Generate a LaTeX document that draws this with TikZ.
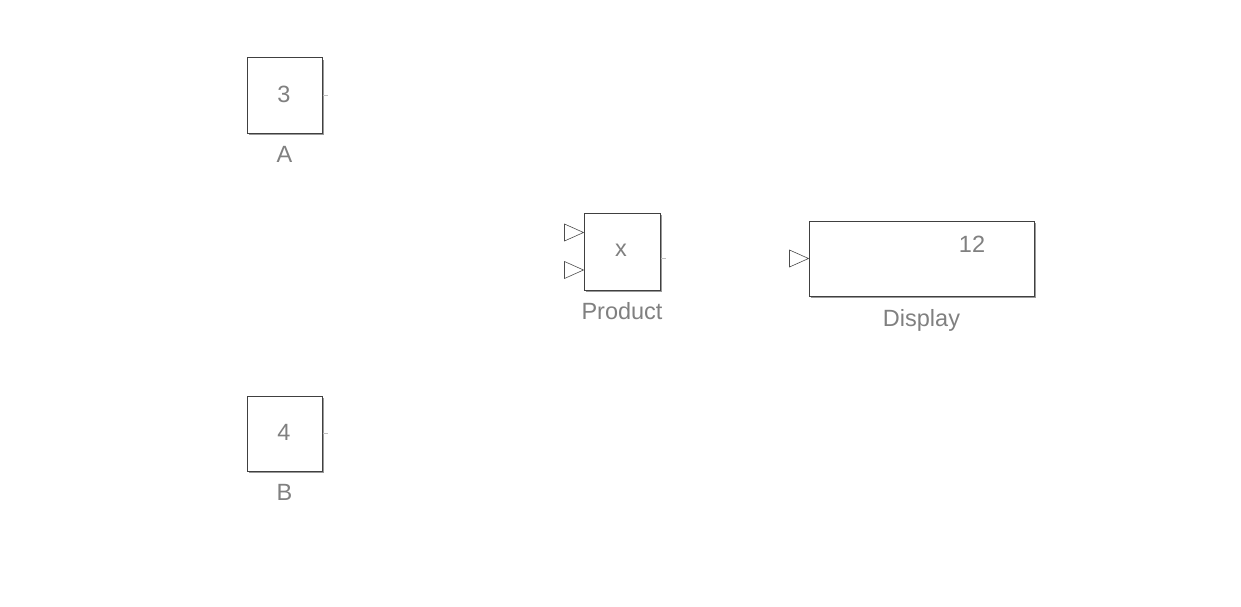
\documentclass[tikz,border=0pt]{standalone}
\usepackage{fontspec}
\setmainfont{Liberation Sans}
\usetikzlibrary{shadows,positioning}
\begin{document}
\begin{tikzpicture}[x=1pt,y=-1pt,
  blk/.style={draw=black!75,line width=1pt,fill=white,minimum width=75pt,minimum height=75pt,inner sep=0pt,
    general shadow={fill=black!40,shadow xshift=2pt,shadow yshift=-2pt}},
  txt/.style={text=black!50,font=\fontsize{23.5}{26}\selectfont,inner sep=0pt},
  port/.style={draw=black!70,line width=0.6pt,fill=white},
  tick/.style={draw=black!25,line width=1pt}]
\useasboundingbox (0,0) rectangle (1241,607);
% A
\node[blk] (A) at (284.5,95.5) {};
\node[txt] (Av) at (284,94) {3};
\node[txt,below=13pt of A] (Al) {A};
% B
\node[blk] (B) at (284.5,433.5) {};
\node[txt] (Bv) at (284,432) {4};
\node[txt,below=13pt of B] (Bl) {B};
% Product
\node[blk,minimum width=76pt,minimum height=77pt] (P) at (622,251.5) {};
\node[txt] (Pv) at (621,250) {x};
\node[txt,below=12pt of P] (Pl) {Product};
% Display
\node[blk,minimum width=225pt,minimum height=75pt] (D) at (921.5,258.5) {};
\node[txt] (Dv) at (972,244) {12};
\node[txt,below=13pt of D] (Dl) {Display};
% ports
\draw[port] (P.west)++(-19,-27.5) -- ++(19,8.5) -- ++(-19,8.5) -- cycle;
\draw[port] (P.west)++(-19,10) -- ++(19,8.5) -- ++(-19,8.5) -- cycle;
\draw[port] (D.west)++(-19,-8.5) -- ++(19,8.5) -- ++(-19,8.5) -- cycle;
\draw[tick] (A.east) -- ++(5,0);
\draw[tick] (B.east) -- ++(5,0);
\draw[tick] (P.east)++(0,6.5) -- ++(5,0);
\end{tikzpicture}
\end{document}
